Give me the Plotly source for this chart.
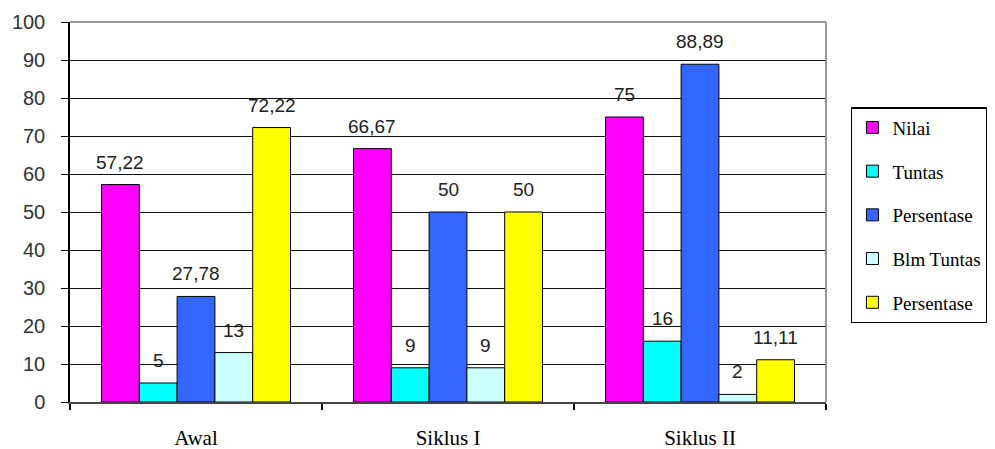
import plotly.graph_objects as go

categories = ["Awal", "Siklus I", "Siklus II"]
series_names = ["Nilai", "Tuntas", "Persentase", "Blm Tuntas", "Persentase"]
nilai = [57.22, 66.67, 75]
tuntas = [5, 9, 16]
persen_tuntas = [27.78, 50, 88.89]
blm_tuntas = [13, 9, 2]
persen_blm = [72.22, 50, 11.11]
y_ticks = [0, 10, 20, 30, 40, 50, 60, 70, 80, 90, 100]

colors = ["#FF00FF", "#00FFFF", "#3366FF", "#CCFFFF", "#FFFF00"]
all_values = [nilai, tuntas, persen_tuntas, blm_tuntas, persen_blm]

W, H = 995, 449
ML, MR, MT, MB = 62, 177, 14, 55
BARGAP = 0.25
plot_w = W - ML - MR
cat_px = plot_w / len(categories)
bar_px = cat_px * (1 - BARGAP) / len(series_names)


def fmt(v):
    return f"{v:g}".replace(".", ",")


fig = go.Figure()
annotations = []
n = len(series_names)
for i, (name, vals, col) in enumerate(zip(series_names, all_values, colors)):
    fig.add_trace(go.Bar(
        x=categories, y=vals, name=name,
        marker=dict(color=col, line=dict(color="black", width=1)),
        legendgroup=f"g{i}",
    ))
    shift = (i - (n - 1) / 2) * bar_px
    for c, v in zip(categories, vals):
        annotations.append(dict(
            x=c, y=v, xref="x", yref="y", text=fmt(v), showarrow=False,
            xanchor="center", yanchor="bottom", xshift=shift, yshift=10,
            font=dict(family="Liberation Sans", size=19, color="#222"),
        ))

fig.update_layout(
    width=W, height=H,
    margin=dict(l=ML, r=MR, t=MT, b=MB, autoexpand=False),
    paper_bgcolor="white", plot_bgcolor="white",
    barmode="group", bargap=BARGAP, bargroupgap=0,
    separators=",.",
    showlegend=True,
    annotations=annotations,
    shapes=[
        dict(type="line", xref="paper", yref="paper", x0=0, x1=1, y0=1, y1=1,
             line=dict(color="#999999", width=2), layer="above"),
        dict(type="line", xref="paper", yref="paper", x0=1, x1=1, y0=0, y1=1,
             line=dict(color="#999999", width=2), layer="above"),
    ],
    legend=dict(
        x=1.033, y=0.776, xanchor="left", yanchor="top",
        bordercolor="black", borderwidth=1.5, bgcolor="white",
        font=dict(family="Liberation Serif", size=19, color="black"),
        traceorder="grouped", tracegroupgap=16,
        itemwidth=30,
    ),
    xaxis=dict(
        automargin=False,
        showline=True, linecolor="#444444", linewidth=2,
        ticks="outside", tickson="boundaries", ticklen=6, tickcolor="black",
        tickwidth=2,
        tickfont=dict(family="Liberation Serif", size=21, color="black"),
        ticklabelstandoff=16,
        showgrid=False,
    ),
    yaxis=dict(
        automargin=False,
        range=[0, 100], tickvals=y_ticks,
        showline=True, linecolor="black", linewidth=1.5,
        ticks="outside", ticklen=7, tickcolor="black",
        tickfont=dict(family="Liberation Sans", size=20, color="#333"),
        ticklabelstandoff=12,
        showgrid=True, gridcolor="#111111", gridwidth=1.2,
        zeroline=False,
    ),
)

fig.write_html("out.html")
